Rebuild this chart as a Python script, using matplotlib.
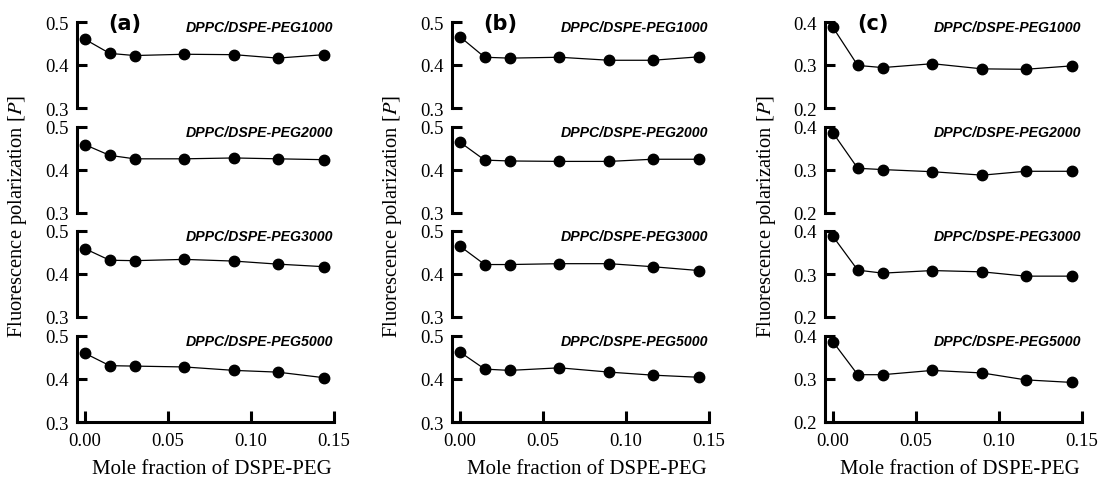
import numpy as np
import matplotlib
matplotlib.use("Agg")
import matplotlib.pyplot as plt

# mole fraction of DSPE-PEG
x = [0.0, 0.015, 0.03, 0.06, 0.09, 0.116, 0.144]

labels = ["DPPC/DSPE-PEG1000", "DPPC/DSPE-PEG2000",
          "DPPC/DSPE-PEG3000", "DPPC/DSPE-PEG5000"]
panels = ["(a)", "(b)", "(c)"]

# (a)
a_1000 = [0.460, 0.427, 0.422, 0.425, 0.424, 0.416, 0.424]
a_2000 = [0.459, 0.434, 0.426, 0.426, 0.428, 0.426, 0.424]
a_3000 = [0.459, 0.432, 0.431, 0.434, 0.430, 0.423, 0.417]
a_5000 = [0.460, 0.431, 0.430, 0.428, 0.420, 0.416, 0.403]
# (b)
b_1000 = [0.466, 0.418, 0.416, 0.418, 0.411, 0.411, 0.419]
b_2000 = [0.465, 0.423, 0.421, 0.420, 0.420, 0.425, 0.425]
b_3000 = [0.465, 0.422, 0.422, 0.424, 0.424, 0.417, 0.408]
b_5000 = [0.463, 0.423, 0.420, 0.426, 0.416, 0.409, 0.404]
# (c)
c_1000 = [0.388, 0.299, 0.294, 0.303, 0.291, 0.290, 0.298]
c_2000 = [0.387, 0.304, 0.301, 0.296, 0.288, 0.297, 0.297]
c_3000 = [0.388, 0.309, 0.302, 0.308, 0.305, 0.295, 0.295]
c_5000 = [0.387, 0.310, 0.310, 0.320, 0.314, 0.298, 0.292]

series = [[a_1000, a_2000, a_3000, a_5000],
          [b_1000, b_2000, b_3000, b_5000],
          [c_1000, c_2000, c_3000, c_5000]]
ylims = [(0.3, 0.5), (0.3, 0.5), (0.2, 0.4)]

plt.rcParams['font.family'] = ['Liberation Serif', 'DejaVu Serif']
plt.rcParams['mathtext.fontset'] = 'stix'

W, H = 1105, 489
fig = plt.figure(figsize=(W / 100, H / 100), dpi=100)


def rect(left, top, width, height):
    return [left / W, 1 - (top + height) / H, width / W, height / H]


col_left = [77, 452, 825]
tops = [23, 128, 232, 337]
ax_h = 86
xmin, xmax = -0.0047, 0.15
ax_w = 257

for c in range(3):
    L = col_left[c]
    for r in range(4):
        ax = fig.add_axes(rect(L, tops[r], ax_w, ax_h))
        ax.plot(x, series[c][r], '-o', color='black', lw=0.9,
                markersize=7.5, clip_on=False)
        ax.set_xlim(xmin, xmax)
        lo, hi = ylims[c]
        ax.set_ylim(lo, hi)
        ax.set_yticks([lo, (lo + hi) / 2, hi])
        ax.set_yticklabels(["%.1f" % v for v in (lo, (lo + hi) / 2, hi)])
        ax.spines['top'].set_visible(False)
        ax.spines['right'].set_visible(False)
        ax.spines['left'].set_linewidth(2.2)
        ax.patch.set_alpha(0)
        ax.tick_params(axis='y', direction='in', length=7.5, width=2.2,
                       labelsize=13.5, pad=6)
        if r < 3:
            ax.spines['bottom'].set_visible(False)
            ax.set_xticks([])
        else:
            ax.spines['bottom'].set_linewidth(2.2)
            ax.spines['bottom'].set_bounds(xmin, 0.15)
            ax.set_xticks([0.0, 0.05, 0.10, 0.15])
            ax.set_xticklabels(["0.00", "0.05", "0.10", "0.15"])
            ax.tick_params(axis='x', direction='in', length=8, width=2.2,
                           labelsize=13.5, pad=7)
        fig.text((L + 256) / W, 1 - (tops[r] + 5) / H, labels[r],
                 family='Liberation Sans', weight='bold', style='italic',
                 fontsize=10.2, ha='right', va='center')
    fig.text((L + 48) / W, 1 - 24 / H, panels[c], family='DejaVu Sans',
             weight='bold', fontsize=15, ha='center', va='center')
    fig.text((L - 59) / W, 1 - 216 / H, "Fluorescence polarization [$P$]",
             rotation=90, fontsize=14.8, ha='center', va='center')
    fig.text((L + 135) / W, 1 - 470 / H, "Mole fraction of DSPE-PEG",
             fontsize=15, ha='center', va='center')

fig.savefig("out.png", dpi=100)
